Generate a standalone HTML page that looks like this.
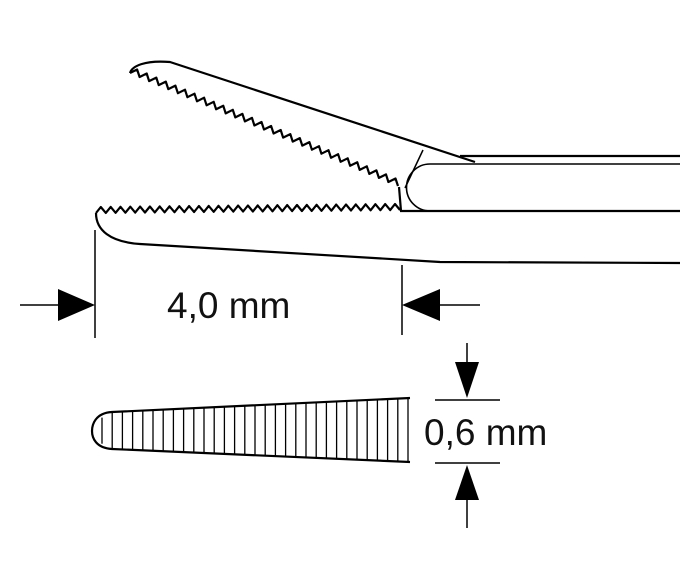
<!DOCTYPE html>
<html><head><meta charset="utf-8"><style>
html,body{margin:0;padding:0;background:#fff;width:700px;height:571px;overflow:hidden}
text{font-family:"Liberation Sans",sans-serif;font-size:37px;fill:#111}
</style></head><body>
<svg id="s" width="700" height="571" viewBox="0 0 700 571" xmlns="http://www.w3.org/2000/svg" fill="none" stroke="#000" stroke-width="2.2" stroke-linejoin="round">
<path d="M130,73 C132,66 145,60 170,62 L475,162"/>
<path d="M460,156 L680,156"/>
<path id="zu" d=""/>
<path d="M399,187 L401,211"/>
<path d="M423,150 L405,188" stroke-width="1.5"/>
<path d="M680,164 L430,164 A23.5,23.5 0 0 0 430,211" stroke-width="1.6"/>
<path id="zl" d=""/>
<path d="M400,211 L680,211"/>
<path d="M96,213 C96,230 110,242 140,244 L440,262 L680,263"/>
<path d="M95,230 L95,338 M402,265 L402,335" stroke-width="1.5"/>
<path d="M20,305 L60,305 M440,305 L480,305" stroke-width="1.5"/>
<polygon points="58,289 95,305 58,321" fill="#000" stroke="none"/>
<polygon points="440,289 402,305 440,321" fill="#000" stroke="none"/>
<text x="167" y="318" stroke="none">4,0 mm</text>
<path d="M410,398 L112,412 C95,413 92,425 92,431 C92,438 96,448 112,449 L410,462"/>
<g id="h" stroke-width="1.3"></g>
<path d="M435,400 L500,400 M435,463 L500,463" stroke-width="1.5"/>
<path d="M467,343 L467,365 M467,497 L467,528" stroke-width="1.5"/>
<polygon points="455,362 479,362 467,398" fill="#000" stroke="none"/>
<polygon points="455,500 479,500 467,465" fill="#000" stroke="none"/>
<text x="424" y="445" stroke="none">0,6 mm</text>
</svg>
<script>
function zig(x0,y0,x1,y1,n,a){var d="M"+x0+","+y0,dx=x1-x0,dy=y1-y0,L=Math.hypot(dx,dy),nx=-dy/L,ny=dx/L;
for(var i=1;i<=n*2;i++){var t=i/(2*n),s=(i%2)?a:0;d+=" L"+(x0+dx*t+nx*s).toFixed(1)+","+(y0+dy*t+ny*s).toFixed(1);}return d;}
document.getElementById("zu").setAttribute("d",zig(130,73,398,186,28,-6));
document.getElementById("zl").setAttribute("d",zig(96,213,400,210,31,-6));
var g=document.getElementById("h"),html="";
for(var x=102;x<=410;x+=10.2){var t=(x-112)/298;var yt=412-14*t,yb=449+13*t;if(x<112){var r=(x-92)/20;yt=431-19*Math.sqrt(Math.max(0,r));yb=431+18*Math.sqrt(Math.max(0,r));}
html+='<line x1="'+x.toFixed(1)+'" y1="'+yt.toFixed(1)+'" x2="'+x.toFixed(1)+'" y2="'+yb.toFixed(1)+'"/>';}
g.innerHTML=html;
</script>
</body></html>
